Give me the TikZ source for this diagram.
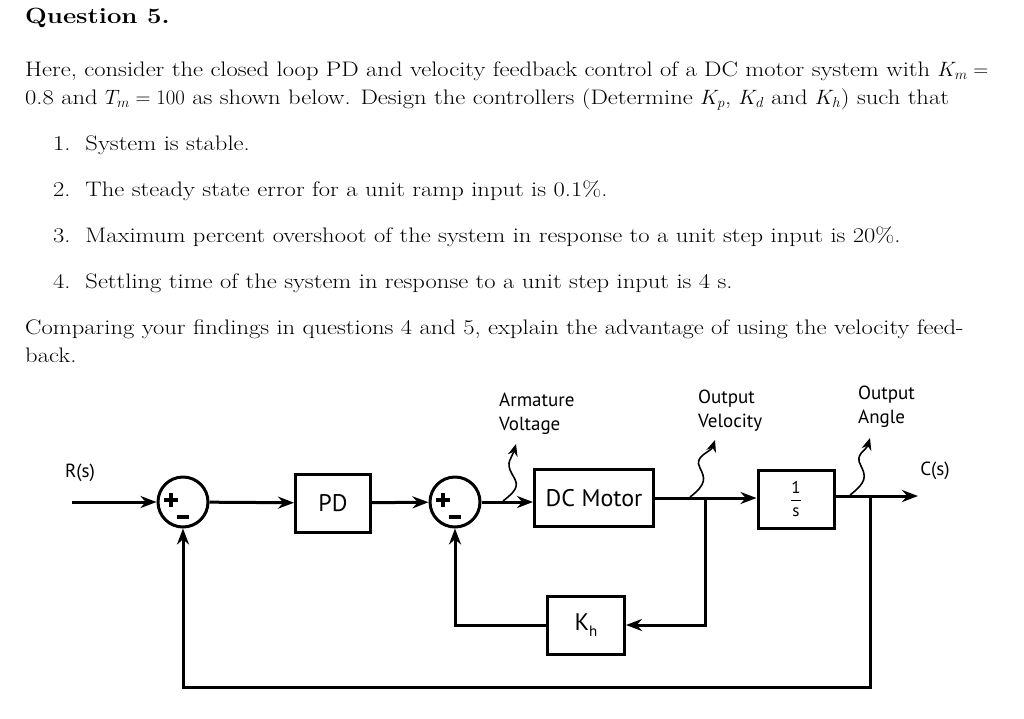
\documentclass[tikz,border=0pt]{standalone}
\usepackage{amsmath}
\usepackage{fontspec}
\setmainfont{Latin Modern Roman}[FakeStretch=1.17]
\newfontfamily\diag{PT Sans}
\usetikzlibrary{arrows.meta}
\begin{document}
\begin{tikzpicture}[x=1pt,y=-1pt,
  txt/.style={anchor=base west,inner sep=0pt,font=\fontsize{21}{25}\selectfont},
  blk/.style={draw,line width=3pt,minimum width=#1,inner sep=0pt,font=\diag\fontsize{24}{26}\selectfont},
  sum/.style={draw,circle,line width=3pt,minimum size=50pt,inner sep=0pt},
  lab/.style={font=\diag\fontsize{19}{24}\selectfont,align=left,inner sep=0pt},
  ln/.style={line width=3pt},
  arr/.style={ln,-{Stealth[length=16pt,width=12pt]}},
  wav/.style={line width=1.6pt,-{Stealth[length=12pt,width=10pt]}}]
\useasboundingbox (0,0) rectangle (1024,718);
% text
\node[txt,font=\bfseries\fontsize{22}{26}\selectfont] (q) at (25,23) {Question 5.};
\node[txt] (t1) at (25,76) {Here, consider the closed loop PD and velocity feedback control of a DC motor system with $K_m=$};
\node[txt] (t2) at (25,104) {0.8 and $T_m=100$ as shown below. Design the controllers (Determine $K_p$, $K_d$ and $K_h$) such that};
\node[txt] (l1) at (53,150) {1.\ \ System is stable.};
\node[txt] (l2) at (53,196) {2.\ \ The steady state error for a unit ramp input is 0.1\%.};
\node[txt] (l3) at (53,242) {3.\ \ Maximum percent overshoot of the system in response to a unit step input is 20\%.};
\node[txt] (l4) at (53,288) {4.\ \ Settling time of the system in response to a unit step input is 4 s.};
\node[txt] (p1) at (25,334) {Comparing your findings in questions 4 and 5, explain the advantage of using the velocity feed-};
\node[txt] (p2) at (25,362) {back.};
% diagram
\node[sum] (s1) at (183,502) {};
\node[sum] (s2) at (455,502) {};
\foreach \s in {s1,s2}{
  \draw[line width=3.5pt] ([xshift=-19pt,yshift=2pt]\s.center) -- ++(14pt,0)
    ([xshift=-12pt,yshift=9pt]\s.center) -- ++(0,-14pt);
  \draw[line width=4pt] ([xshift=-6pt,yshift=-15pt]\s.center) -- ++(12pt,0);
}
\node[blk=75pt,minimum height=58pt] (pd) at (333,503) {PD};
\node[blk=119pt,minimum height=57pt] (dc) at (594,498) {DC Motor};
\node[blk=76pt,minimum height=58pt] (in) at (796,499) {\fontsize{17}{17}\selectfont$\dfrac{\text{\diag 1}}{\text{\diag s}}$};
\node[blk=77pt,minimum height=58pt] (kh) at (586,625) {K\raisebox{-6pt}{\fontsize{15}{15}\selectfont h}};
\node[lab] (rs) at (80,473) {R(s)};
\node[lab] (cs) at (935,471) {C(s)};
\node[lab,anchor=north west] (av) at (499,393) {Armature\\Voltage};
\node[lab,anchor=north west] (ov) at (698,390) {Output\\Velocity};
\node[lab,anchor=north west] (oa) at (858,386) {Output\\Angle};
\coordinate (r0) at (72,502);
\coordinate (b1) at (705,498);
\coordinate (b2) at (870,496);
\coordinate (out) at (918,496);
\draw[arr] (r0) -- (s1);
\draw[arr] (s1) -- (pd);
\draw[arr] (pd) -- (s2);
\draw[arr] (s2) -- (s2 -| dc.west);
\draw[arr] (dc.east |- b1) -- (in.west |- b1);
\draw[arr] (in.east |- b2) -- (out);
\draw[arr] (b1) |- (kh.east);
\draw[ln] (kh.west) -| (455,560);
\draw[arr] (455,560) -- (s2.south);
\draw[ln] (b2) |- (183,687) -- (183,560);
\draw[arr] (183,560) -- (s1.south);
% wavy labels
\draw[wav] (503,501) .. controls (520,488) and (518,484) .. (512,474) .. controls (505,462) and (512,458) .. (516,444);
\draw[wav] (690,497) .. controls (707,484) and (705,478) .. (700,468) .. controls (693,456) and (711,452) .. (715,440);
\draw[wav] (850,495) .. controls (867,482) and (866,476) .. (861,466) .. controls (854,454) and (866,451) .. (870,438);
\end{tikzpicture}
\end{document}
